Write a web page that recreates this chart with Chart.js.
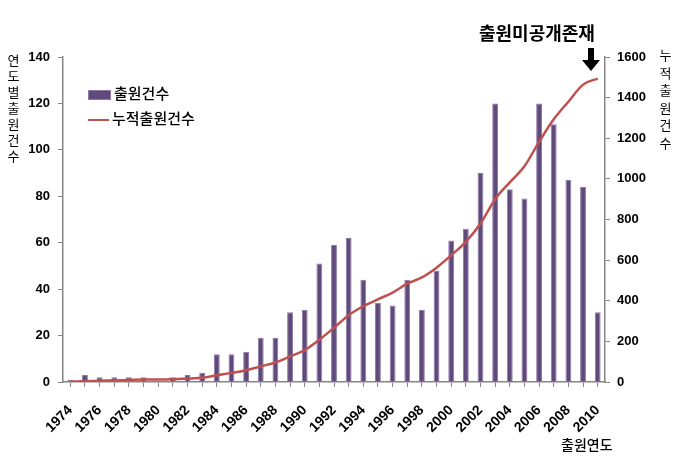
<!DOCTYPE html>
<html>
<head>
<meta charset="utf-8">
<script src="https://cdn.jsdelivr.net/npm/chart.js@4.4.1/dist/chart.umd.min.js"></script>
<style>
  html, body { margin: 0; padding: 0; background: #fff; }
  #wrap { position: relative; width: 683px; height: 474px; font-family: "Noto Sans CJK KR", sans-serif; }
  canvas { position: absolute; left: 0; top: 0; }
  .vtitle { position: absolute; writing-mode: vertical-rl; text-orientation: upright; font-size: 13px; letter-spacing: 3px; color: #000; }
  .note { position: absolute; font-weight: bold; color: #000; }
  .legend { position: absolute; left: 88px; top: 80px; font-size: 15px; font-weight: 500; color: #000; }
  .legend div { height: 25px; line-height: 25px; white-space: nowrap; }
  .swatch { display: inline-block; width: 21px; vertical-align: middle; margin-right: 3px; }
</style>
</head>
<body>
<div id="wrap">
  <canvas id="chart" width="683" height="474"></canvas>
  <div class="vtitle" style="left:4px; top:54px;">연도별출원건수</div>
  <div class="vtitle" style="left:656px; top:49px; letter-spacing:4.5px;">누적출원건수</div>
  <div class="note" style="left:479px; top:19px; font-size:18px;">출원미공개존재</div>
  <div class="note" style="left:561px; top:434px; font-size:14px; font-weight:500;">출원연도</div>
  <svg style="position:absolute; left:581px; top:48px;" width="20" height="24">
    <polygon points="7,0 13,0 13,12 19,12 10,23 1,12 7,12" fill="#000"/>
  </svg>
  <div class="legend">
    <div><span class="swatch" style="height:8px; background:#604a7b; border:1px solid #8c7aa9;"></span>출원건수</div>
    <div><span class="swatch" style="height:2px; background:#c0504d;"></span>누적출원건수</div>
  </div>
</div>
<script>
//
// Data
const YEARS = ['1974','1975','1976','1977','1978','1979','1980','1981','1982','1983',
  '1984','1985','1986','1987','1988','1989','1990','1991','1992','1993',
  '1994','1995','1996','1997','1998','1999','2000','2001','2002','2003',
  '2004','2005','2006','2007','2008','2009','2010'];
const APPLICATIONS = [1, 3, 2, 2, 2, 2, 0, 2, 3, 4,
  12, 12, 13, 19, 19, 30, 31, 51, 59, 62,
  44, 34, 33, 44, 31, 48, 61, 66, 90, 120,
  83, 79, 120, 111, 87, 84, 30];
const CUMULATIVE = [1, 4, 6, 8, 10, 12, 12, 14, 17, 21,
  33, 45, 58, 77, 96, 126, 157, 208, 267, 329,
  373, 407, 440, 484, 515, 563, 624, 690, 780, 900,
  983, 1062, 1182, 1293, 1380, 1464, 1494];

const AXIS_GREY = '#868686';
const tickFont = { family: 'Liberation Sans', size: 13, weight: 'bold' };

let ctx = document.getElementById('chart').getContext('2d');
new Chart(ctx, {
  data: {
    labels: YEARS,
    datasets: [{
      type: 'line',
      label: '누적출원건수',
      data: CUMULATIVE,
      yAxisID: 'y1',
      borderColor: '#c0504d',
      borderWidth: 2.5,
      pointRadius: 0,
      cubicInterpolationMode: 'monotone',
      order: 0
    }, {
      type: 'bar',
      label: '출원건수',
      data: APPLICATIONS,
      yAxisID: 'y',
      backgroundColor: '#604a7b',
      borderColor: '#8c7aa9',
      borderWidth: 1,
      barPercentage: 0.4,
      categoryPercentage: 1,
      order: 1
    }]
  },
  options: {
    responsive: false,
    animation: false,
    layout: { padding: { top: 57, left: 0, right: 0, bottom: 0 } },
    plugins: { legend: { display: false }, tooltip: { enabled: false } },
    scales: {
      x: {
        offset: true,
        afterFit: function(scale) { scale.height = 92; },
        grid: { offset: false, drawOnChartArea: false, color: AXIS_GREY, tickLength: 5 },
        border: { color: AXIS_GREY, width: 1.5 },
        ticks: {
          autoSkip: false,
          maxRotation: 45,
          minRotation: 45,
          color: '#000',
          font: { family: 'Liberation Sans', size: 14, weight: 'bold' },
          padding: 15,
          callback: function(value, index) {
            return index % 2 === 0 ? YEARS[index] : '';
          }
        }
      },
      y: {
        position: 'left',
        min: 0,
        max: 140,
        afterFit: function(scale) { scale.width = 63; },
        grid: { drawOnChartArea: false, color: AXIS_GREY, tickLength: 5 },
        border: { color: AXIS_GREY, width: 1.5 },
        ticks: { stepSize: 20, color: '#000', font: tickFont, padding: 8 }
      },
      y1: {
        position: 'right',
        min: 0,
        max: 1600,
        afterFit: function(scale) { scale.width = 78; },
        grid: { drawOnChartArea: false, color: AXIS_GREY, tickLength: 5 },
        border: { color: AXIS_GREY, width: 1.5 },
        ticks: {
          stepSize: 200,
          color: '#000',
          font: tickFont,
          padding: 7,
          callback: function(value) { return String(value); }
        }
      }
    }
  }
});
</script>
</body>
</html>
